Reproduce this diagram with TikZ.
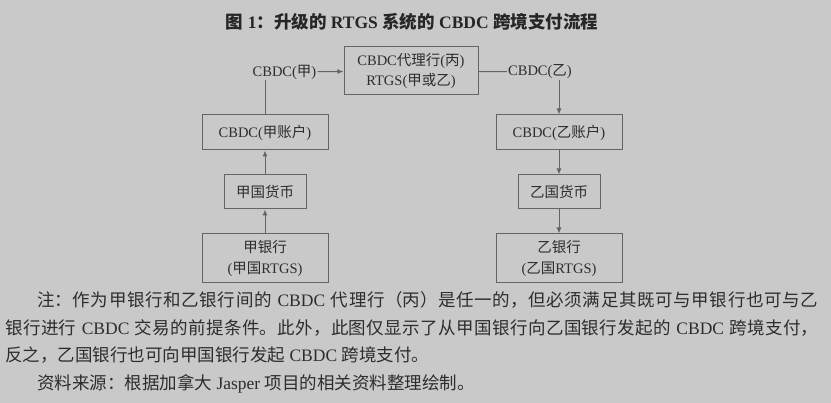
\documentclass[tikz,border=0pt]{standalone}
\usepackage{fontspec}
\setmainfont{Liberation Serif}
\newfontfamily\zhfont{Noto Sans CJK SC}
\newcommand\zh[1]{{\zhfont #1}}
\XeTeXlinebreaklocale "zh"
\XeTeXlinebreakskip=0pt plus 1pt
\usetikzlibrary{arrows.meta,backgrounds}
\definecolor{bgc}{RGB}{201,201,201}
\definecolor{linec}{RGB}{100,100,100}
\definecolor{inkc}{RGB}{45,45,45}

\begin{document}
\begin{tikzpicture}[x=1pt,y=-1pt,
        box/.style={draw=linec,line width=1pt,inner sep=0pt,text=inkc,align=center,
                    font=\fontsize{14.5}{20.5}\selectfont},
        lbl/.style={inner sep=1pt,text=inkc,font=\fontsize{14.5}{20}\selectfont},
        flow/.style={draw=linec,line width=1pt,-{Latex[length=6pt,width=5pt]}}
    ]
    \fill[bgc] (0,0) rectangle (831,403);
    \useasboundingbox (0,0) rectangle (831,403);

    % title
    \node[text=black!85,font=\bfseries\fontsize{17.5}{20}\selectfont] (title) at (412,22)
        {\zh{图} 1\zh{：升级的} RTGS \zh{系统的} CBDC \zh{跨境支付流程}};

    % top row
    \node[box,minimum width=134pt,minimum height=48pt] (agent) at (411,71)
        {CBDC\zh{代理行}(\zh{丙})\\RTGS(\zh{甲或乙})};
    \node[lbl] (cbdcA) at (284.5,72) {CBDC(\zh{甲})};
    \node[lbl] (cbdcB) at (540,72) {CBDC(\zh{乙})};

    % left column
    \node[box,minimum width=126pt,minimum height=35pt] (acctA) at (265,132.5) {CBDC(\zh{甲账户})};
    \node[box,minimum width=82pt,minimum height=34pt]  (curA)  at (265,192)   {\zh{甲国货币}};
    \node[box,minimum width=126pt,minimum height=49pt] (bankA) at (265,258.5) {\zh{甲银行}\\(\zh{甲国}RTGS)};

    % right column
    \node[box,minimum width=126pt,minimum height=35pt] (acctB) at (559,132.5) {CBDC(\zh{乙账户})};
    \node[box,minimum width=82pt,minimum height=34pt]  (curB)  at (559,192)   {\zh{乙国货币}};
    \node[box,minimum width=126pt,minimum height=49pt] (bankB) at (559,258.5) {\zh{乙银行}\\(\zh{乙国}RTGS)};

    % connectors
    \draw[flow] (bankA) -- (curA);
    \draw[flow] (curA) -- (acctA);
    \draw[draw=linec,line width=1pt] (acctA.north) -- (acctA.north |- cbdcA.south);
    \draw[flow] (cbdcA) -- (agent);
    \draw[draw=linec,line width=1pt] (agent) -- (cbdcB);
    \draw[flow] (acctB.north |- cbdcB.south) -- (acctB.north);
    \draw[flow] (acctB) -- (curB);
    \draw[flow] (curB) -- (bankB);

    % note below the figure
    \node[anchor=base west,inner sep=0pt,text width=813pt,align=justify,text=inkc,
          font=\fontsize{17.5}{27.7}\selectfont] (note) at (5,306.5)
        {\hspace*{32pt}\zh{注：作为甲银行和乙银行间的} CBDC \zh{代理行（丙）是任一的，但必须满足其既可与甲银行也可与乙}\linebreak
         \zh{银行进行} CBDC \zh{交易的前提条件。此外，此图仅显示了从甲国银行向乙国银行发起的} CBDC \zh{跨境支付，}\linebreak
         \zh{反之，乙国银行也可向甲国银行发起} CBDC \zh{跨境支付。}\par
         \hspace*{32pt}\zh{资料来源：根据加拿大} Jasper \zh{项目的相关资料整理绘制。}};
\end{tikzpicture}
\end{document}
